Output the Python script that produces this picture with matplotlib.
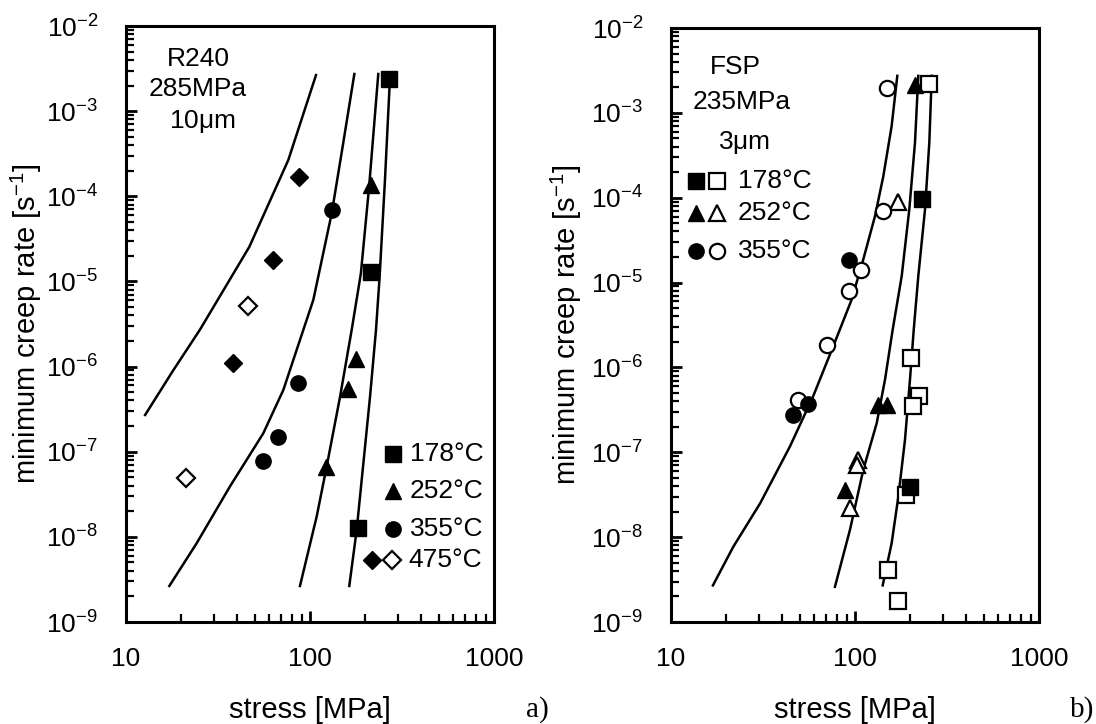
import matplotlib
matplotlib.use("Agg")
import matplotlib.pyplot as plt
from matplotlib.ticker import LogLocator, FixedLocator, NullFormatter

plt.rcParams['font.family'] = ['Liberation Sans', 'DejaVu Sans']
plt.rcParams['mathtext.fontset'] = 'custom'
plt.rcParams['mathtext.rm'] = 'Liberation Sans'
plt.rcParams['mathtext.it'] = 'Liberation Sans:italic'
plt.rcParams['mathtext.default'] = 'regular'

# ---- a) R240, 10 um ----
a_sq_s = [268.7, 213.8, 183.1]
a_sq_r = [2.38e-3, 1.28e-5, 1.28e-8]
a_tri_s = [214.0, 177.8, 161.5, 122.2]
a_tri_r = [1.35e-4, 1.22e-6, 5.4e-7, 6.7e-8]
a_circ_s = [131.2, 86.4, 66.7, 55.7]
a_circ_r = [6.9e-5, 6.5e-7, 1.48e-7, 7.8e-8]
a_dia_s = [87.1, 63.2, 38.0]
a_dia_r = [1.68e-4, 1.78e-5, 1.09e-6]
a_odia_s = [46.2, 21.1]
a_odia_r = [5.1e-6, 4.9e-8]

# model curves
a_c475_s = [12.7, 18.1, 25.2, 46.8, 76.2, 107.8]
a_c475_r = [2.7e-7, 9.1e-7, 2.7e-6, 2.55e-5, 2.66e-4, 2.65e-3]
a_c355_s = [17.2, 24.2, 36.7, 55.7, 71.6, 92.0, 104.2, 131.2, 151.5, 174.2]
a_c355_r = [2.65e-9, 8.4e-9, 3.9e-8, 1.64e-7, 5.3e-7, 2.7e-6, 6.05e-6, 6.3e-5, 4.2e-4, 2.73e-3]
a_c252_s = [88.2, 108.7, 123.2, 145.6, 168.5, 189.0, 209.5, 235.0]
a_c252_r = [2.65e-9, 1.73e-8, 6.7e-8, 4.4e-7, 2.7e-6, 1.24e-5, 1.29e-4, 2.73e-3]
a_c178_s = [163.5, 179.3, 195.0, 211.9, 228.4, 239.0, 255.5, 272.5]
a_c178_r = [2.65e-9, 1.2e-8, 7.3e-8, 4.4e-7, 2.7e-6, 1.14e-5, 1.55e-4, 2.65e-3]

# ---- b) FSP, 3 um ----
b_sq_s = [230.4, 199.0]
b_sq_r = [9.75e-5, 3.95e-8]
b_osq_s = [253.5, 200.8, 223.7, 207.4, 189.3, 151.7, 170.6]
b_osq_r = [2.18e-3, 1.29e-6, 4.56e-7, 3.48e-7, 3.16e-8, 4.1e-9, 1.78e-9]
b_tri_s = [211.9, 133.8, 148.7, 88.2]
b_tri_r = [2.12e-3, 3.64e-7, 3.64e-7, 3.6e-8]
b_otri_s = [171.9, 104.2, 102.1, 93.9]
b_otri_r = [8.9e-5, 8.2e-8, 7.1e-8, 2.2e-8]
b_circ_s = [92.8, 55.7, 46.2]
b_circ_r = [1.87e-5, 3.74e-7, 2.77e-7]
b_ocirc_s = [149.8, 142.6, 107.8, 92.8, 70.2, 49.2]
b_ocirc_r = [1.94e-3, 7.0e-5, 1.40e-5, 7.9e-6, 1.86e-6, 4.09e-7]

b_c355_s = [16.9, 21.8, 30.5, 44.3, 59.3, 76.2, 95.9, 110.9, 128.5, 142.6, 158.2, 169.8]
b_c355_r = [2.7e-9, 7.7e-9, 2.5e-8, 1.17e-7, 4.6e-7, 1.78e-6, 6.3e-6, 1.87e-5, 6.1e-5, 1.8e-4, 7.0e-4, 2.73e-3]
b_c252_s = [77.8, 93.9, 110.9, 131.2, 145.6, 160.3, 179.4, 197.3, 211.9, 220.8]
b_c252_r = [2.6e-9, 1.22e-8, 6.2e-8, 2.2e-7, 7.2e-7, 2.8e-6, 1.19e-5, 7.3e-5, 4.5e-4, 2.73e-3]
b_c178_s = [141.4, 158.2, 172.0, 186.9, 199.0, 208.6, 220.8, 240.2, 253.5, 261.2]
b_c178_r = [2.7e-9, 8.5e-9, 3.0e-8, 1.4e-7, 7.2e-7, 2.8e-6, 1.19e-5, 7.3e-5, 4.5e-4, 2.73e-3]

ytick_vals = [1e-9, 1e-8, 1e-7, 1e-6, 1e-5, 1e-4, 1e-3, 1e-2]
ytick_labels = ['10$^{-%d}$' % k for k in range(9, 1, -1)]
xtick_vals = [10, 100, 1000]
xtick_labels = ['10', '100', '1000']

FS = 19
ms = 11
mew = 1.6


def setup(ax, ylab_x):
    ax.set_xscale('log')
    ax.set_yscale('log')
    ax.set_xlim(10, 1000)
    ax.set_ylim(1e-9, 1e-2)
    for sp in ax.spines.values():
        sp.set_linewidth(2.2)
    ax.xaxis.set_major_locator(FixedLocator(xtick_vals))
    ax.set_xticklabels(xtick_labels)
    ax.yaxis.set_major_locator(FixedLocator(ytick_vals))
    ax.set_yticklabels(ytick_labels)
    ax.xaxis.set_minor_locator(LogLocator(base=10, subs=range(2, 10), numticks=20))
    ax.yaxis.set_minor_locator(LogLocator(base=10, subs=range(2, 10), numticks=20))
    ax.xaxis.set_minor_formatter(NullFormatter())
    ax.yaxis.set_minor_formatter(NullFormatter())
    ax.tick_params(which='both', direction='in', top=False, right=False)
    ax.tick_params(which='major', length=8, width=2, labelsize=FS)
    ax.tick_params(which='minor', length=6, width=1.6)
    ax.tick_params(axis='x', which='major', pad=18)
    ax.tick_params(axis='y', which='major', pad=20)
    ax.set_xlabel('stress [MPa]', fontsize=21)
    ax.xaxis.set_label_coords(0.5, -0.125)
    ax.set_ylabel('minimum creep rate [s$^{-1}$]', fontsize=21)
    ax.yaxis.set_label_coords(ylab_x, 0.5)


fig = plt.figure(figsize=(10.96, 7.24), dpi=100)
ax1 = fig.add_axes([126 / 1096, 102 / 724, 368 / 1096, 596 / 724])
ax2 = fig.add_axes([671 / 1096, 102 / 724, 368 / 1096, 594 / 724])

line_kw = dict(color='black', lw=1.8, zorder=2)
fill_kw = dict(ls='none', color='black', ms=ms, zorder=4)
open_kw = dict(ls='none', mfc='white', mec='black', mew=mew, ms=ms, zorder=3)

# panel a
setup(ax1, -0.223)
for s, r in [(a_c475_s, a_c475_r), (a_c355_s, a_c355_r),
             (a_c252_s, a_c252_r), (a_c178_s, a_c178_r)]:
    ax1.plot(s, r, **line_kw)
ax1.plot(a_sq_s, a_sq_r, marker='s', **fill_kw)
ax1.plot(a_tri_s, a_tri_r, marker='^', **fill_kw)
ax1.plot(a_circ_s, a_circ_r, marker='o', **fill_kw)
ax1.plot(a_dia_s, a_dia_r, marker='D', **dict(fill_kw, ms=9))
ax1.plot(a_odia_s, a_odia_r, marker='D', **dict(open_kw, ms=9))

ax1.text(0.198, 0.944, 'R240', transform=ax1.transAxes, ha='center', va='center', fontsize=FS)
ax1.text(0.196, 0.894, '285MPa', transform=ax1.transAxes, ha='center', va='center', fontsize=FS)
ax1.text(0.207, 0.840, '10$\\mu$m', transform=ax1.transAxes, ha='center', va='center', fontsize=FS)

leg_a = [('s', 0.282, '178°C'), ('^', 0.219, '252°C'), ('o', 0.156, '355°C')]
for mk, fy, txt in leg_a:
    ax1.plot([0.726], [fy], marker=mk, transform=ax1.transAxes, **fill_kw)
    ax1.text(0.772, fy, txt, transform=ax1.transAxes, ha='left', va='center', fontsize=FS)
ax1.plot([0.668], [0.104], marker='D', transform=ax1.transAxes, **dict(fill_kw, ms=9))
ax1.plot([0.724], [0.104], marker='D', transform=ax1.transAxes, **dict(open_kw, ms=9))
ax1.text(0.766, 0.104, '475°C', transform=ax1.transAxes, ha='left', va='center', fontsize=FS)

# panel b
setup(ax2, -0.236)
for s, r in [(b_c355_s, b_c355_r), (b_c252_s, b_c252_r), (b_c178_s, b_c178_r)]:
    ax2.plot(s, r, **line_kw)
ax2.plot(b_osq_s, b_osq_r, marker='s', **open_kw)
ax2.plot(b_otri_s, b_otri_r, marker='^', **open_kw)
ax2.plot(b_ocirc_s, b_ocirc_r, marker='o', **open_kw)
ax2.plot(b_sq_s, b_sq_r, marker='s', **fill_kw)
ax2.plot(b_tri_s, b_tri_r, marker='^', **fill_kw)
ax2.plot(b_circ_s, b_circ_r, marker='o', **fill_kw)

ax2.text(0.174, 0.934, 'FSP', transform=ax2.transAxes, ha='center', va='center', fontsize=FS)
ax2.text(0.193, 0.875, '235MPa', transform=ax2.transAxes, ha='center', va='center', fontsize=FS)
ax2.text(0.198, 0.808, '3$\\mu$m', transform=ax2.transAxes, ha='center', va='center', fontsize=FS)

leg_b = [('s', 0.743, '178°C'), ('^', 0.688, '252°C'), ('o', 0.625, '355°C')]
for mk, fy, txt in leg_b:
    ax2.plot([0.068], [fy], marker=mk, transform=ax2.transAxes, **fill_kw)
    ax2.plot([0.126], [fy], marker=mk, transform=ax2.transAxes, **open_kw)
    ax2.text(0.182, fy, txt, transform=ax2.transAxes, ha='left', va='center', fontsize=FS)

fig.text(537 / 1096, 1 - 710 / 724, 'a)', family='Liberation Serif', fontsize=21, ha='center', va='center')
fig.text(1082 / 1096, 1 - 710 / 724, 'b)', family='Liberation Serif', fontsize=21, ha='center', va='center')

fig.savefig('out.png', dpi=100)
